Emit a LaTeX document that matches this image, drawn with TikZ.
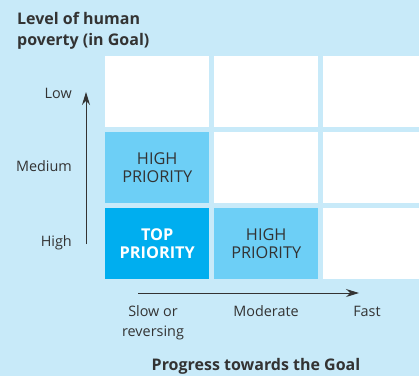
\documentclass[tikz,border=0pt]{standalone}
\usepackage{fontspec}
\setmainfont{Open Sans}
\usetikzlibrary{arrows.meta,positioning}
\definecolor{bgblue}{HTML}{C8EAF9}
\definecolor{highblue}{HTML}{6DCFF6}
\definecolor{topblue}{HTML}{00AEEF}
\definecolor{txtgray}{HTML}{333333}
\begin{document}
\begin{tikzpicture}[x=1pt,y=-1pt,
  cell/.style={anchor=north west,inner sep=0pt,minimum width=104pt,minimum height=71pt,
    fill=white,text=txtgray,align=center,font=\fontsize{16.3}{18}\selectfont},
  highcell/.style={cell,fill=highblue},
  topcell/.style={cell,fill=topblue,text=white,font=\fontsize{16.3}{18}\selectfont\bfseries},
  axislabel/.style={inner sep=0pt,text=txtgray,font=\fontsize{14.4}{20.5}\selectfont},
  axistitle/.style={inner sep=0pt,text=txtgray,font=\fontsize{16}{21}\selectfont\bfseries},
  axisarrow/.style={line width=1pt,draw=txtgray,-{Stealth[length=13pt,width=8pt]}}]
  % Hintergrund
  \fill[bgblue] (0,0) rectangle (419,376);
  \useasboundingbox (0,0) rectangle (419,376);
  % Raster der Felder
  \node[cell] (low1) at (105,56) {};
  \node[cell] (low2) at (214,56) {};
  \node[cell,minimum width=96pt] (low3) at (323,56) {};
  \node[highcell] (med1) at (105,132) {HIGH\\PRIORITY};
  \node[cell] (med2) at (214,132) {};
  \node[cell,minimum width=96pt] (med3) at (323,132) {};
  \node[topcell] (high1) at (105,208) {TOP\\PRIORITY};
  \node[highcell] (high2) at (214,208) {HIGH\\PRIORITY};
  \node[cell,minimum width=96pt] (high3) at (323,208) {};
  % Achsen
  \coordinate (ybot) at (86,244);
  \coordinate (ytop) at (86,92);
  \coordinate (xleft) at (138,293);
  \coordinate (xright) at (359,293);
  \draw[axisarrow] (ybot) -- (ytop);
  \draw[axisarrow] (xleft) -- (xright);
  % Beschriftung
  \node[axislabel,anchor=east] (lowlab) at (72,93) {Low};
  \node[axislabel,anchor=east] (medlab) at (72,166) {Medium};
  \node[axislabel,anchor=east] (highlab) at (72,243) {High};
  \node[axislabel,anchor=north,align=center] (slowlab) at (153,305) {Slow or\\reversing};
  \node[axislabel,anchor=base] (modlab) at (266,316) {Moderate};
  \node[axislabel,anchor=base] (fastlab) at (367,316) {Fast};
  \node[axistitle,anchor=north west,align=left] (ytitle) at (17,12) {Level of human\\poverty (in Goal)};
  \node[axistitle,anchor=base] (xtitle) at (256,370) {Progress towards the Goal};
\end{tikzpicture}
\end{document}
